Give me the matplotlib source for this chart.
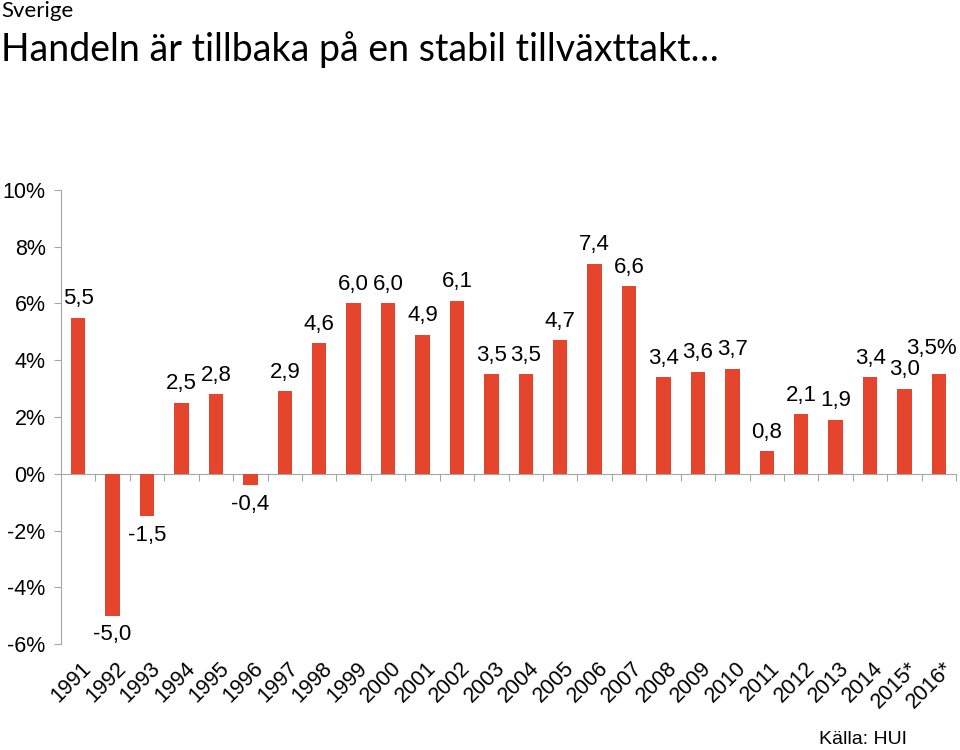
import numpy as np
import matplotlib.pyplot as plt

# data
years = ['1991', '1992', '1993', '1994', '1995', '1996', '1997', '1998', '1999',
         '2000', '2001', '2002', '2003', '2004', '2005', '2006', '2007', '2008',
         '2009', '2010', '2011', '2012', '2013', '2014', '2015*', '2016*']
growth = [5.5, -5.0, -1.5, 2.5, 2.8, -0.4, 2.9, 4.6, 6.0, 6.0, 4.9, 6.1, 3.5, 3.5,
          4.7, 7.4, 6.6, 3.4, 3.6, 3.7, 0.8, 2.1, 1.9, 3.4, 3.0, 3.5]
ytick_vals = [-6, -4, -2, 0, 2, 4, 6, 8, 10]
ytick_labels = ['-6%', '-4%', '-2%', '0%', '2%', '4%', '6%', '8%', '10%']

bar_color = '#E6452D'
grey = '#A6A6A6'
font = 'Liberation Sans'
titlefont = ['Lato', 'DejaVu Sans']

fig = plt.figure(figsize=(9.6, 7.5), dpi=100)
ax = fig.add_axes([0.0635, 0.1413, 0.9325, 0.6054])

x = np.arange(len(years))
ax.bar(x, growth, width=0.42, color=bar_color, zorder=3)

ax.set_xlim(-0.5, len(years) - 0.5)
ax.set_ylim(-6, 10)

# y axis
ax.set_yticks(ytick_vals)
ax.set_yticklabels(ytick_labels, fontsize=15.5, family=font)
ax.tick_params(axis='y', length=5, color=grey, pad=6)
ax.spines['left'].set_color(grey)
ax.spines['top'].set_visible(False)
ax.spines['right'].set_visible(False)

# x axis through zero, ticks between categories
ax.spines['bottom'].set_position(('data', 0))
ax.spines['bottom'].set_color(grey)
ax.set_xticks(np.arange(len(years)) + 0.5)
ax.set_xticklabels([])
ax.tick_params(axis='x', length=5, color=grey, direction='out')

# year labels at bottom
for i, yr in enumerate(years):
    ax.text(i + 0.3, -6.75, yr, rotation=45, rotation_mode='anchor',
            ha='right', va='center', fontsize=15.5, family=font)

# value labels
for i, v in enumerate(growth):
    txt = ('%.1f' % v).replace('.', ',')
    if i == len(growth) - 1:
        # last label carries the unit, nudged to stay inside the figure
        ax.text(i + 0.52, v + 0.55, txt + '%', ha='right', va='bottom',
                fontsize=16, family=font, clip_on=False)
    elif v >= 0:
        ax.text(i, v + 0.3, txt, ha='center', va='bottom', fontsize=16, family=font)
    else:
        ax.text(i, v - 0.3, txt, ha='center', va='top', fontsize=16, family=font)

# titles
fig.text(0.001, 0.999, 'Sverige', ha='left', va='top', fontsize=16, family=titlefont)
fig.text(0.001, 0.958, 'Handeln är tillbaka på en stabil tillväxttakt…',
         ha='left', va='top', fontsize=27, family=titlefont)
fig.text(0.853, 0.003, 'Källa: HUI', ha='left', va='bottom', fontsize=14, family=font)

fig.savefig('out.png', dpi=100)
